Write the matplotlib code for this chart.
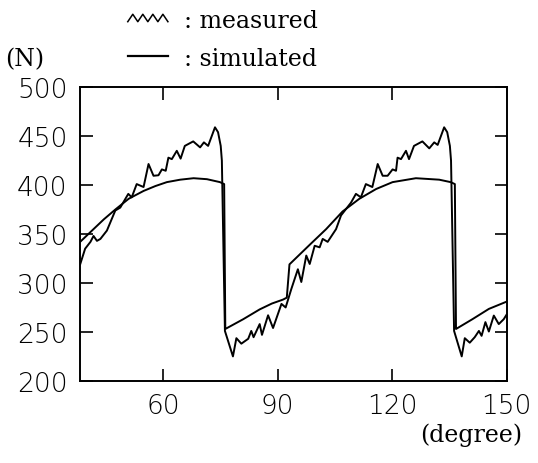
import matplotlib
matplotlib.use("Agg")
import matplotlib.pyplot as plt
from matplotlib.lines import Line2D
from matplotlib.legend_handler import HandlerBase

# crank angle (degree) and force (N)
sim_deg = [38.3, 41.8, 44.5, 47.5, 51.0, 54.9, 58.0, 61.0, 64.5, 68.0,
           71.5, 74.9, 76.0, 76.3, 81.0, 85.3, 88.5, 91.4, 92.4, 93.1,
           98.4, 102.7, 107.0, 111.4, 115.8, 120.1, 126.2, 132.3, 135.3,
           136.4, 136.7, 141.0, 145.3, 150.0]
sim_val = [342, 355, 365, 375, 386, 394, 399, 403, 405.5, 407,
           406, 403, 401, 253, 263, 273, 279, 283, 285, 319,
           339, 355, 373, 386, 396, 403, 407, 405.5, 403,
           401, 253, 263, 273.5, 281]

meas_deg = [38.3, 39.6, 41.0, 41.8, 42.7, 43.6, 45.3, 47.5, 48.8, 50.9,
            51.8, 53.1, 54.9, 56.2, 57.5, 58.8, 59.7, 60.7, 61.4, 62.3,
            63.6, 64.6, 65.7, 67.9, 69.7, 70.7, 71.8, 73.6, 74.4, 75.1,
            75.4, 76.2, 78.3, 79.2, 80.5, 82.3, 83.1, 83.7, 85.3, 85.9,
            87.5, 88.8, 91.0, 92.1, 93.6, 95.3, 96.2, 97.5, 98.4, 99.7,
            101.0, 101.8, 103.1, 105.3, 106.6, 107.9, 109.2, 110.5, 111.8, 113.1,
            114.8, 116.2, 117.5, 118.8, 120.1, 121.0, 121.4, 122.3, 123.6, 124.4,
            125.7, 127.9, 129.7, 131.0, 131.9, 133.6, 134.4, 135.1, 135.4, 136.2,
            138.2, 139.0, 140.3, 141.6, 142.7, 143.4, 144.4, 145.3, 146.6, 147.9,
            149.2, 150.0]
meas_val = [319, 335, 342, 348, 343, 345, 353.5, 374, 377, 391,
            387.5, 401, 398, 421.5, 409.5, 410, 416, 414.6, 428, 426.5,
            435, 427, 440, 444.6, 438.5, 443.6, 440, 459, 454, 440,
            425, 251, 225, 243.6, 238, 243, 251, 244.6, 258, 247,
            267, 254, 278.6, 275, 294, 314, 301, 328, 319.4, 338,
            336.4, 345, 342, 355, 369, 375.5, 382, 391, 387.5, 401,
            398, 421.5, 409.5, 409.5, 416, 414.6, 428, 426.5, 435, 426.5,
            440, 444.6, 437.5, 443.6, 441, 459, 454, 440, 425, 251,
            225, 243.6, 239, 244.6, 251, 246, 260, 250.4, 266.7, 258,
            263, 268]

x_ticks = [60, 90, 120, 150]
y_ticks = [200, 250, 300, 350, 400, 450, 500]


class ZigzagHandler(HandlerBase):
    # little saw-tooth sample for the measured curve
    def create_artists(self, legend, orig_handle, xdescent, ydescent,
                       width, height, fontsize, trans):
        n = 9
        xs = [-xdescent + width * i / (n - 1) for i in range(n)]
        ys = [-ydescent + height * (0.75 if i % 2 else 0.3) for i in range(n)]
        line = Line2D(xs, ys, color="black", lw=1.1, transform=trans)
        return [line]


fig = plt.figure(figsize=(5.38, 4.64), dpi=100)
ax = fig.add_axes([0.149, 0.177, 0.793, 0.633])

ax.plot(meas_deg, meas_val, color="black", lw=1.4)
ax.plot(sim_deg, sim_val, color="black", lw=1.4)

ax.set_xlim(38.3, 150)
ax.set_ylim(200, 500)
ax.set_xticks(x_ticks)
ax.set_yticks(y_ticks)
ax.tick_params(direction="in", length=9, width=1.2, top=True, right=True,
               labeltop=False, labelright=False, labelsize=19, pad=9)
for lab in ax.get_xticklabels() + ax.get_yticklabels():
    lab.set_fontfamily("DejaVu Sans")
    lab.set_fontweight("light")
for sp in ax.spines.values():
    sp.set_linewidth(1.4)

meas_h = Line2D([], [], color="black")
sim_h = Line2D([], [], color="black", lw=1.6)
fig.legend([meas_h, sim_h], [": measured", ": simulated"],
           handler_map={meas_h: ZigzagHandler()},
           loc="upper left", bbox_to_anchor=(0.198, 1.025), frameon=False,
           prop={"family": "DejaVu Serif", "size": 17},
           handlelength=1.7, handletextpad=0.7, labelspacing=0.64)

fig.text(0.01, 1 - 60 / 464, "(N)", family="DejaVu Serif", fontsize=17,
         va="center", ha="left")
fig.text(0.97, 1 - 435 / 464, "(degree)", family="DejaVu Serif", fontsize=17,
         va="center", ha="right")

fig.savefig("out.png", dpi=100)
